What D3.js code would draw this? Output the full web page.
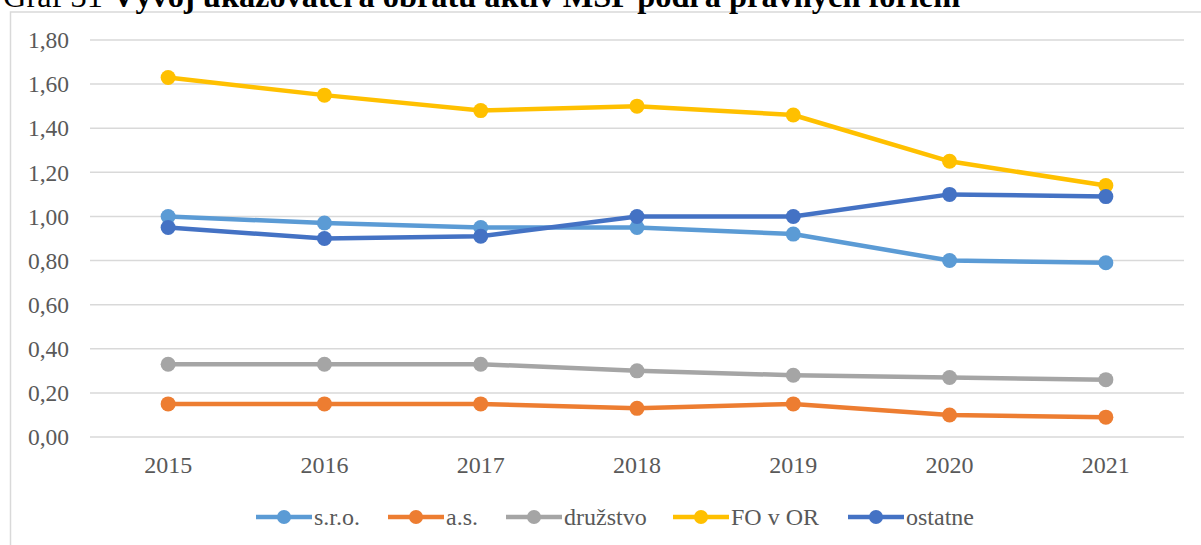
<!DOCTYPE html>
<html><head><meta charset="utf-8">
<script src="https://cdn.jsdelivr.net/npm/d3@7"></script>
<style>body{margin:0;background:#fff;overflow:hidden}svg{display:block;font-family:'Liberation Serif','Times New Roman',serif}</style>
</head><body>
<svg id="c" width="1201" height="545"></svg>
<script>
const years = ["2015","2016","2017","2018","2019","2020","2021"];
const yTicks = [0,0.2,0.4,0.6,0.8,1.0,1.2,1.4,1.6,1.8];
const seriesNames = ["s.r.o.","a.s.","družstvo","FO v OR","ostatne"];
const sro = [1.00,0.97,0.95,0.95,0.92,0.80,0.79];
const as = [0.15,0.15,0.15,0.13,0.15,0.10,0.09];
const druzstvo = [0.33,0.33,0.33,0.30,0.28,0.27,0.26];
const foVOr = [1.63,1.55,1.48,1.50,1.46,1.25,1.14];
const ostatne = [0.95,0.90,0.91,1.00,1.00,1.10,1.09];
const colors = ["#5B9BD5","#ED7D31","#A5A5A5","#FFC000","#4472C4"];
const seriesValues = [sro, as, druzstvo, foVOr, ostatne];

const svg = d3.select("#c");
const font = "'Liberation Serif','Times New Roman',serif";

// chart border
svg.append("rect").attr("x",10.5).attr("y",12).attr("width",1200).attr("height",545)
  .attr("fill","#fff").attr("stroke","#d9d9d9").attr("stroke-width",1.5);

// title (clipped at top, as in the reference)
const title = svg.append("text").attr("y",7)
  .attr("font-family",font).attr("font-size",32.4).attr("fill","#000");
title.append("tspan").attr("x",3).text("Graf 31");
title.append("tspan").attr("x",112).attr("font-weight","bold").text("Vývoj ukazovateľa obratu aktív MSP podľa právnych foriem");

const x = d3.scaleBand().domain(years).range([90,1184]);
const y = d3.scaleLinear().domain([0,1.8]).range([437,40]);

// grid
svg.append("g").selectAll("line").data(yTicks).join("line")
  .attr("x1",90).attr("x2",1184)
  .attr("y1",d=>y(d)).attr("y2",d=>y(d))
  .attr("stroke","#d9d9d9").attr("stroke-width",1.5);

// y axis
const yAxis = svg.append("g").attr("transform","translate(69,0)")
  .call(d3.axisLeft(y).tickValues(yTicks).tickSize(0).tickPadding(0)
    .tickFormat(d=>d3.format(".2f")(d).replace(".",",")));
yAxis.select(".domain").remove();
yAxis.attr("font-family",font).attr("font-size",null);
yAxis.selectAll("text").attr("font-family",font).attr("font-size",23.5).attr("fill","#595959").attr("dy","0.33em");

// x axis
const xAxis = svg.append("g").attr("transform","translate(0,437)")
  .call(d3.axisBottom(x).tickSize(0).tickPadding(0));
xAxis.select(".domain").remove();
xAxis.attr("font-family",font).attr("font-size",null);
xAxis.selectAll("text").attr("font-family",font).attr("font-size",24).attr("fill","#595959").attr("dy","36");

const line = d3.line().x((d,i)=>x(years[i])+x.bandwidth()/2).y(d=>y(d));
seriesValues.forEach((vals,si)=>{
  const g = svg.append("g");
  g.append("path").datum(vals).attr("d",line).attr("fill","none")
    .attr("stroke",colors[si]).attr("stroke-width",4.5).attr("stroke-linejoin","round");
  g.selectAll("circle").data(vals).join("circle")
    .attr("cx",(d,i)=>x(years[i])+x.bandwidth()/2).attr("cy",d=>y(d))
    .attr("r",7.5).attr("fill",colors[si]);
});

// legend
const legX = [256,388,506,673,848];
const leg = svg.append("g").attr("font-family",font);
seriesNames.forEach((n,i)=>{
  const g = leg.append("g").attr("transform",`translate(${legX[i]},517)`);
  g.append("line").attr("x1",0).attr("x2",56).attr("y1",0).attr("y2",0)
    .attr("stroke",colors[i]).attr("stroke-width",4.5);
  g.append("circle").attr("cx",28).attr("cy",0).attr("r",7).attr("fill",colors[i]);
  g.append("text").attr("x",58).attr("y",0).attr("dy","0.33em").text(n)
    .attr("font-family",font).attr("font-size",24).attr("fill","#595959");
});
</script>
</body></html>
